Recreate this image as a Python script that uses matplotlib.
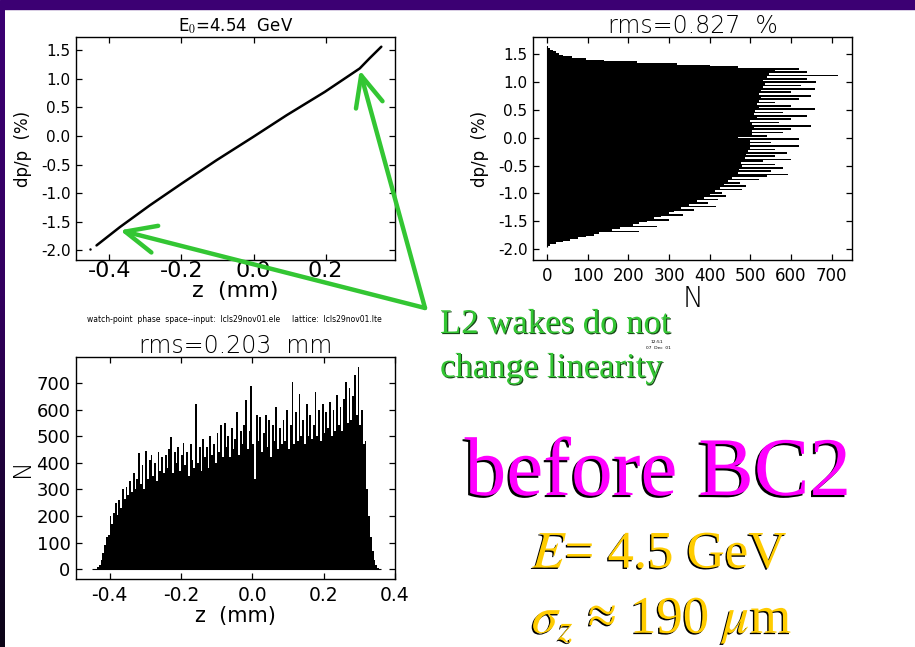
import numpy as np
import matplotlib.pyplot as plt
import matplotlib.patheffects as pe
from matplotlib.colors import LinearSegmentedColormap
from matplotlib.patches import Rectangle
from matplotlib.ticker import FormatStrFormatter

plt.rcParams['mathtext.fontset'] = 'stix'

# ---- data ----
# longitudinal phase space dp/p (%) vs z (mm)
z_curve = [-0.436, -0.371, -0.288, -0.200, -0.103, -0.001, 0.092, 0.198, 0.295, 0.322, 0.355]
dp_curve = [-1.915, -1.594, -1.214, -0.835, -0.426, -0.018, 0.362, 0.770, 1.180, 1.355, 1.560]
z_stray = [-0.453]
dp_stray = [-1.97]

# energy spread histogram (horizontal), bins from -1.965 to 1.635 %
dp_range = (-1.965, 1.635)
dp_counts = [
    2, 8, 22, 38, 55, 75, 95, 115, 128, 225,
    160, 178, 270, 210, 225, 245, 300, 262, 280, 335,
    300, 312, 360, 330, 415, 350, 395, 368, 420, 385,
    440, 400, 430, 412, 480, 425, 488, 436, 475, 445,
    520, 455, 540, 592, 470, 550, 472, 580, 480, 560,
    478, 530, 600, 486, 560, 490, 590, 495, 560, 500,
    620, 498, 550, 500, 620, 470, 540, 505, 580, 505,
    600, 510, 650, 505, 570, 500, 600, 515, 640, 510,
    580, 512, 658, 520, 600, 515, 560, 520, 620, 525,
    650, 522, 600, 525, 660, 530, 625, 535, 662, 532,
    640, 540, 716, 545, 640, 560, 620, 470, 400, 320,
    220, 140, 95, 60, 40, 30, 22, 14, 7, 2,
]

# bunch length histogram, bins from -0.45 to 0.36 mm
z_range = (-0.45, 0.36)
z_counts = [
    0, 0, 2, 8, 18, 35, 60, 90, 120, 130,
    200, 170, 210, 250, 205, 260, 230, 300, 265, 310,
    280, 330, 290, 360, 300, 340, 435, 320, 390, 300,
    445, 340, 410, 430, 350, 400, 330, 440, 370, 420,
    360, 430, 380, 450, 495, 360, 440, 400, 460, 370,
    430, 475, 390, 440, 350, 470, 410, 380, 620, 400,
    460, 370, 490, 420, 460, 380, 500, 430, 470, 400,
    510, 440, 540, 420, 550, 460, 500, 420, 530, 450,
    490, 590, 430, 520, 470, 540, 635, 450, 520, 690,
    470, 340, 580, 480, 570, 440, 510, 580, 460, 560,
    420, 540, 480, 610, 450, 530, 470, 560, 480, 600,
    450, 540, 705, 470, 590, 480, 660, 500, 560, 470,
    620, 500, 580, 490, 540, 665, 500, 600, 480, 620,
    510, 590, 530, 630, 500, 600, 520, 655, 540, 610,
    520, 640, 705, 550, 680, 560, 650, 730, 580, 760,
    540, 600, 470, 480, 300, 200, 120, 70, 35, 15,
    5, 0,
]

# annotation anchors (slide overlay)
arrow_tips = [(-0.371, -1.65), (0.295, 1.15)]
arrow_tail_px = (425, 308)

W, H = 915, 647
fig = plt.figure(figsize=(W / 100, H / 100), dpi=100, facecolor='white')


def px_axes(x0, y0, x1, y1):
    return fig.add_axes([x0 / W, 1 - y1 / H, (x1 - x0) / W, (y1 - y0) / H])


def idl_style(ax):
    ax.tick_params(direction='in', top=True, right=True, length=4, width=0.9)
    for s in ax.spines.values():
        s.set_linewidth(1.0)


# slide frame: purple band on top, fading strip on the left
fig.patches.append(Rectangle((0, 1 - 9 / H), 1, 9 / H, transform=fig.transFigure,
                             color='#3c0073', zorder=0))
ax_strip = fig.add_axes([0, 0, 5 / W, 1 - 9 / H])
strip_cmap = LinearSegmentedColormap.from_list(
    'strip', [(0, '#3c0073'), (0.45, '#33005f'), (1, '#0b0516')])
ax_strip.imshow(np.linspace(0, 1, 256).reshape(-1, 1), aspect='auto', cmap=strip_cmap)
ax_strip.axis('off')

# ---- top left: phase space ----
ax1 = px_axes(76, 37, 395, 260)
ax1.plot(z_curve, dp_curve, color='black', lw=1.8, solid_capstyle='round')
ax1.plot(z_stray, dp_stray, 'k.', ms=1.5)
ax1.set_xlim(-0.493, 0.393)
ax1.set_ylim(-2.17, 1.73)
ax1.set_xticks([-0.4, -0.2, 0.0, 0.2])
ax1.set_yticks(np.arange(-2.0, 1.51, 0.5))
ax1.xaxis.set_major_formatter(FormatStrFormatter('%.1f'))
ax1.yaxis.set_major_formatter(FormatStrFormatter('%.1f'))
idl_style(ax1)
ax1.tick_params(axis='x', labelsize=16, pad=1)
ax1.tick_params(axis='y', labelsize=11, pad=4)
ax1.set_title(r'E$_0$=4.54  GeV', fontsize=12, pad=4)
ax1.set_xlabel('z  (mm)', fontsize=16, labelpad=0)
ax1.set_ylabel('dp/p  (%)', fontsize=12, labelpad=6)

# ---- top right: dp/p histogram ----
ax2 = px_axes(533, 37, 852, 260)
dp_edges = np.linspace(dp_range[0], dp_range[1], len(dp_counts) + 1)
ax2.stairs(dp_counts, dp_edges, orientation='horizontal', fill=True, color='black', lw=0)
ax2.vlines(0, dp_edges[0], dp_edges[-1], color='black', lw=0.8)
ax2.set_xlim(-35, 750)
ax2.set_ylim(-2.19, 1.80)
ax2.set_xticks(np.arange(0, 701, 100))
ax2.set_yticks(np.arange(-2.0, 1.51, 0.5))
ax2.yaxis.set_major_formatter(FormatStrFormatter('%.1f'))
idl_style(ax2)
ax2.tick_params(axis='x', labelsize=12, pad=5)
ax2.tick_params(axis='y', labelsize=11, pad=4)
ax2.set_title('rms=0.827  %', fontsize=17, pad=3, fontweight='light')
ax2.set_xlabel('N', fontsize=20, labelpad=0, fontweight='light')
ax2.set_ylabel('dp/p  (%)', fontsize=12, labelpad=6)

# ---- bottom left: z histogram ----
ax3 = px_axes(76, 357, 395, 579)
z_edges = np.linspace(z_range[0], z_range[1], len(z_counts) + 1)
ax3.stairs(z_counts, z_edges, fill=True, color='black', lw=0)
ax3.hlines(0, z_edges[0], z_edges[-1], color='black', lw=0.8)
ax3.set_xlim(-0.494, 0.4)
ax3.set_ylim(-36, 797)
ax3.set_xticks([-0.4, -0.2, 0.0, 0.2, 0.4])
ax3.set_yticks(np.arange(0, 701, 100))
ax3.xaxis.set_major_formatter(FormatStrFormatter('%.1f'))
idl_style(ax3)
ax3.tick_params(axis='x', labelsize=13.5, pad=5)
ax3.tick_params(axis='y', labelsize=13, pad=4)
ax3.set_title('rms=0.203  mm', fontsize=17, pad=3, fontweight='light')
ax3.set_xlabel('z  (mm)', fontsize=15, labelpad=1)
ax3.set_ylabel('N', fontsize=18, labelpad=2, fontweight='light')

fig.text(234 / W, 1 - 320 / H,
         'watch-point  phase  space--input:  lcls29nov01.ele     lattice:  lcls29nov01.lte',
         fontsize=5.5, ha='center', va='center')
fig.text(657 / W, 1 - 342 / H, '12:51', fontsize=3.2, ha='center', va='center')
fig.text(658 / W, 1 - 348 / H, '07  Dec  01', fontsize=3.2, ha='center', va='center')

# ---- green annotation ----
green = '#33c633'
for tip in arrow_tips:
    ax1.annotate('', xy=tip, xycoords='data',
                 xytext=(arrow_tail_px[0] / W, 1 - arrow_tail_px[1] / H),
                 textcoords='figure fraction', annotation_clip=False,
                 arrowprops=dict(arrowstyle='->, head_length=1.0, head_width=0.45',
                                 color=green, lw=3.2, shrinkA=0, shrinkB=0,
                                 mutation_scale=22))

shadow_green = [pe.withSimplePatchShadow(offset=(0.8, -0.8), shadow_rgbFace='#174a17', alpha=1)]
fig.text(440 / W, 1 - 333 / H, 'L2 wakes do not', family='Liberation Serif',
         fontsize=25, color=green, ha='left', va='baseline', path_effects=shadow_green)
fig.text(440 / W, 1 - 377 / H, 'change linearity', family='Liberation Serif',
         fontsize=25, color=green, ha='left', va='baseline', path_effects=shadow_green)

shadow_dark = [pe.withSimplePatchShadow(offset=(-1.5, -1.5), shadow_rgbFace='black', alpha=1)]
shadow_thin = [pe.withSimplePatchShadow(offset=(-1, -1), shadow_rgbFace='black', alpha=1)]
fig.text(658 / W, 1 - 495 / H, 'before BC2', family='Liberation Serif',
         fontsize=60, color='#ff00ff', ha='center', va='baseline', path_effects=shadow_dark)

gold = '#ffcc00'
fig.text(660 / W, 1 - 568 / H, r'$E$= 4.5 GeV', family='Liberation Serif',
         fontsize=38, color=gold, ha='center', va='baseline', path_effects=shadow_thin)
fig.text(662 / W, 1 - 633 / H, r'$\sigma_z$ ≈ 190 $\mu$m', family='Liberation Serif',
         fontsize=38, color=gold, ha='center', va='baseline', path_effects=shadow_thin)

fig.savefig('out.png', dpi=100, facecolor='white')
